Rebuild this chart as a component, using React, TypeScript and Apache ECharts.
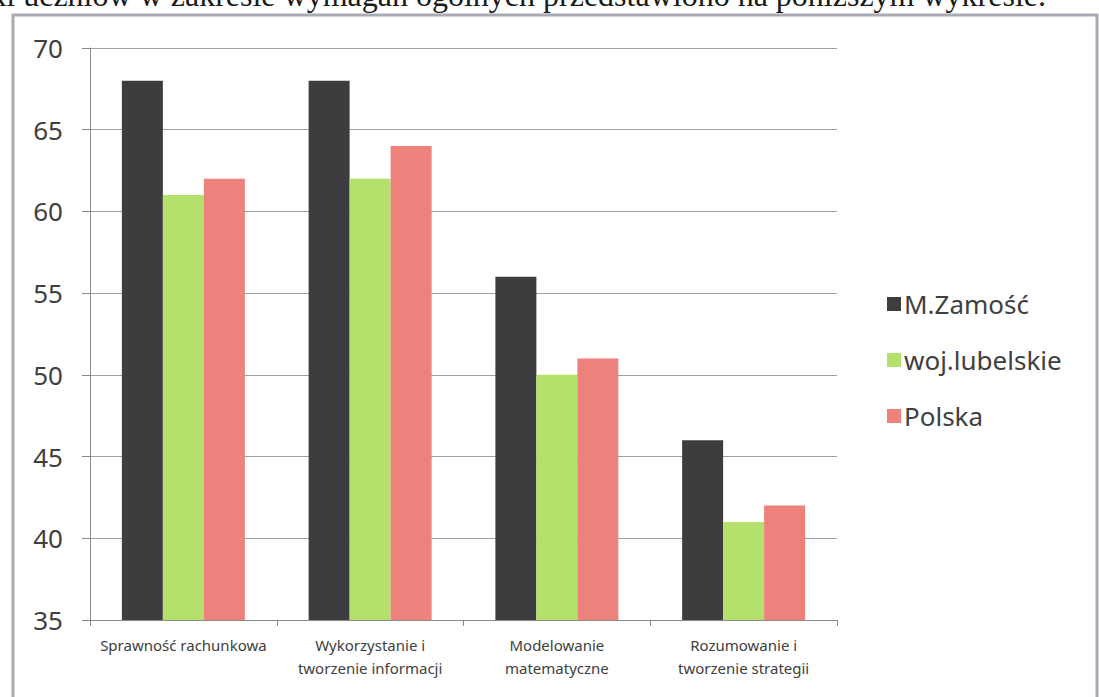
import React, { useEffect, useRef } from "react";
import * as echarts from "echarts";

const categories = [
  "Sprawność rachunkowa",
  "Wykorzystanie i\ntworzenie informacji",
  "Modelowanie\nmatematyczne",
  "Rozumowanie i\ntworzenie strategii",
];
const seriesNames = ["M.Zamość", "woj.lubelskie", "Polska"];
const zamosc = [68, 68, 56, 46];
const lubelskie = [61, 62, 50, 41];
const polska = [62, 64, 51, 42];
const seriesColors = ["#3d3d3f", "#b4e06c", "#ec827b"];
const headerText = "ki uczniów w zakresie wymagań ogólnych przedstawiono na poniższym wykresie.";

export default function App() {
  const ref = useRef<HTMLDivElement>(null);
  useEffect(() => {
    document.body.style.margin = "0";
    const chart = echarts.init(ref.current!, undefined, { renderer: "svg" });
    const data = [zamosc, lubelskie, polska];
    chart.setOption({
      animation: false,
      backgroundColor: "#ffffff",
      grid: { left: 90, right: 262, top: 48, bottom: 77, containLabel: false },
      legend: {
        orient: "vertical",
        left: 882,
        top: 284,
        itemWidth: 14,
        itemHeight: 14,
        itemGap: 26,
        icon: "rect",
        textStyle: { fontFamily: "Noto Sans", fontSize: 26, color: "#404040", lineHeight: 30, padding: [0, 0, 0, -2] },
        data: seriesNames,
      },
      xAxis: {
        type: "category",
        data: categories,
        axisLine: { show: true, lineStyle: { color: "#8a8a8a", width: 1 } },
        axisTick: { show: true, length: 6, lineStyle: { color: "#8a8a8a" } },
        axisLabel: {
          interval: 0,
          margin: 13,
          fontFamily: "Noto Sans",
          fontSize: 15,
          lineHeight: 23,
          color: "#404040",
        },
      },
      yAxis: {
        type: "value",
        min: 35,
        max: 70,
        interval: 5,
        axisLine: { show: true, lineStyle: { color: "#8a8a8a", width: 1 } },
        axisTick: { show: true, length: 8, lineStyle: { color: "#8a8a8a" } },
        axisLabel: { margin: 27, fontFamily: "Noto Sans", fontSize: 26, color: "#404040" },
        splitLine: { show: true, lineStyle: { color: "#9aa1ab", width: 1 } },
      },
      series: seriesNames.map((name, i) => ({
        name,
        type: "bar",
        data: data[i],
        barWidth: 41,
        barGap: "0%",
        itemStyle: { color: seriesColors[i] },
      })),
      graphic: [
        {
          type: "text",
          x: 1046,
          y: 11,
          style: {
            text: headerText,
            font: '32px "Liberation Serif"',
            fill: "#1a1a1a",
            textAlign: "right",
            textVerticalAlign: "bottom",
          },
        },
        {
          type: "rect",
          shape: { x: 13, y: 15, width: 1084, height: 700 },
          style: { fill: "none", stroke: "#a8acb2", lineWidth: 3 },
          silent: true,
        },
      ],
    });
    return () => chart.dispose();
  }, []);
  return <div ref={ref} style={{ width: 1099, height: 697 }} />;
}
